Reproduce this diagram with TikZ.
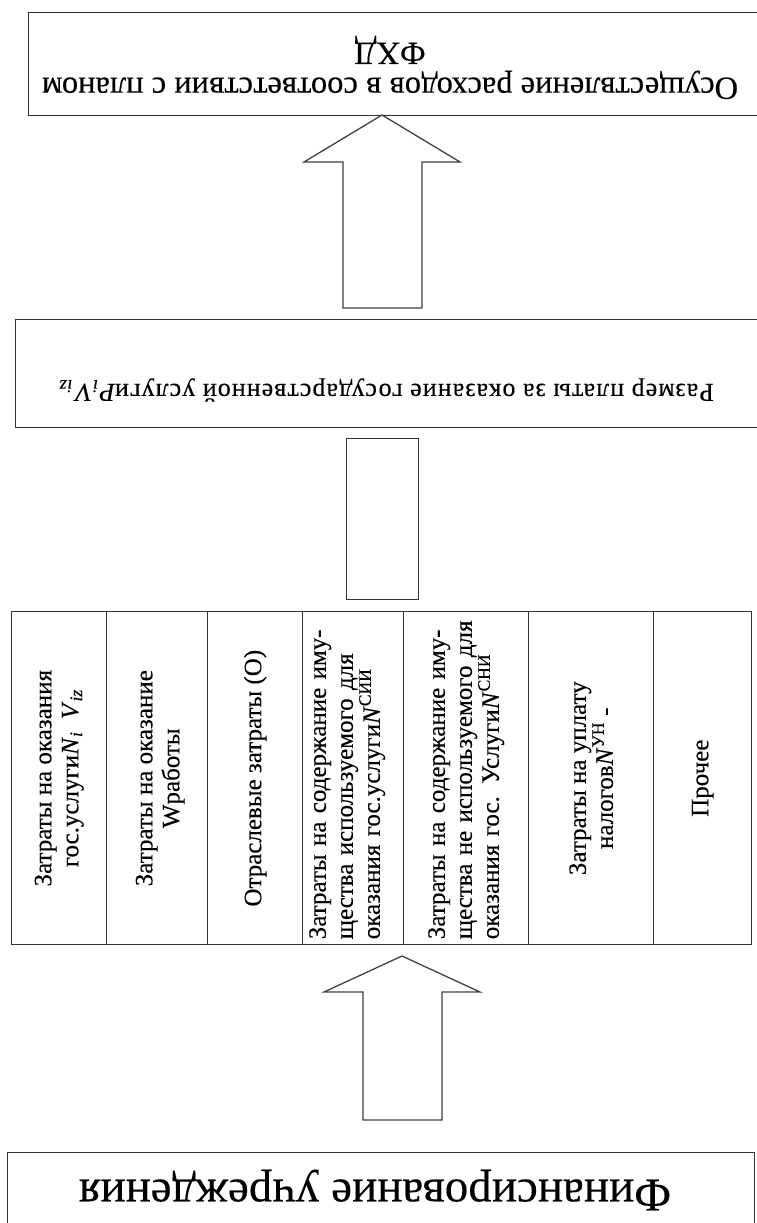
\documentclass[tikz,border=0pt]{standalone}
\usepackage{fontspec}
\setmainfont{Liberation Serif}[FakeBold=0.25]
\begin{document}
\begin{tikzpicture}[x=1pt,y=-1pt,
  frame/.style={draw=black!80, line width=1.4pt},
  box/.style={frame, rectangle, inner sep=0pt, anchor=north west},
  blockarrow/.style={draw=black!75, line width=1.3pt, line join=miter, fill=white},
  coltext/.style={rotate=90, font=\fontsize{25}{27}\selectfont, inner sep=0pt},
  flipped/.style={rotate=180, inner sep=0pt, align=center},
]
\useasboundingbox (0,0) rectangle (757,1223);
\clip (0,0) rectangle (757,1223);

% top block: spending according to the plan
\node[box, minimum width=740pt, minimum height=103pt] (plan) at (28,12) {};
\node[flipped, font=\fontsize{32.5}{35}\selectfont] (plantext) at (390,67.5)
  {Осуществление расходов в соответствии с планом\\ФХД};

% block arrow into the top block
\draw[blockarrow] (382,115) -- (460,162) -- (422,162) -- (422,308)
  -- (343,308) -- (343,162) -- (304,162) -- cycle;

% fee block
\node[box, minimum width=750pt, minimum height=108pt] (fee) at (15,319) {};
\node[flipped, font=\fontsize{26}{30}\selectfont\addfontfeature{LetterSpace=4}] (feetext) at (386,390)
  {Размер платы за оказание государственной услуги\textit{P}\textsubscript{\textit{i}}\textit{V}\textsubscript{\textit{iz}}};

% narrow link block
\node[box, minimum width=72pt, minimum height=161pt] (link) at (346,438) {};

% cost table: seven columns
\node[box, minimum width=95pt,  minimum height=333pt] (c1) at (11,611) {};
\node[box, minimum width=101pt, minimum height=333pt] (c2) at (106,611) {};
\node[box, minimum width=95pt,  minimum height=333pt] (c3) at (207,611) {};
\node[box, minimum width=101pt, minimum height=333pt] (c4) at (302,611) {};
\node[box, minimum width=125pt, minimum height=333pt] (c5) at (403,611) {};
\node[box, minimum width=125pt, minimum height=333pt] (c6) at (528,611) {};
\node[box, minimum width=98pt,  minimum height=333pt] (c7) at (653,611) {};

\node[coltext, align=center] (t1) at (c1.center)
  {Затраты на оказания\\гос.услуги\textit{N}\textsubscript{\textit{i}}\ \ \textit{V}\textsubscript{\textit{iz}}};
\node[coltext, align=center] (t2) at ([xshift=3pt]c2.center)
  {Затраты на оказание\\Wработы};
\node[coltext, align=center] (t3) at (c3.center)
  {Отраслевые затраты (О)};
\node[coltext, align=left, text width=322pt] (t4) at ([xshift=-6pt]c4.center)
  {Затраты на содержание иму-\\щества используемого для\\оказания гос.услуги\textit{N}\textsuperscript{СИИ}};
\node[coltext, align=left, text width=322pt] (t5) at ([xshift=0pt]c5.center)
  {Затраты на содержание иму-\\щества не используемого для\\оказания гос. Услуги\textit{N}\textsuperscript{СНИ}};
\node[coltext, align=center] (t6) at (c6.center)
  {Затраты на уплату\\налогов\textit{N}\textsuperscript{УН} -};
\node[coltext, align=center] (t7) at (c7.center)
  {Прочее};

% block arrow from the funding block into the table
\draw[blockarrow] (402,956) -- (480,992) -- (442,992) -- (442,1120)
  -- (363,1120) -- (363,992) -- (324,992) -- cycle;

% bottom block: funding of the institution
\node[box, minimum width=747pt, minimum height=90pt] (fund) at (7,1152) {};
\node[flipped, font=\fontsize{47}{50}\selectfont] (fundtext) at (375,1190)
  {Финансирование учреждения};
\end{tikzpicture}
\end{document}
